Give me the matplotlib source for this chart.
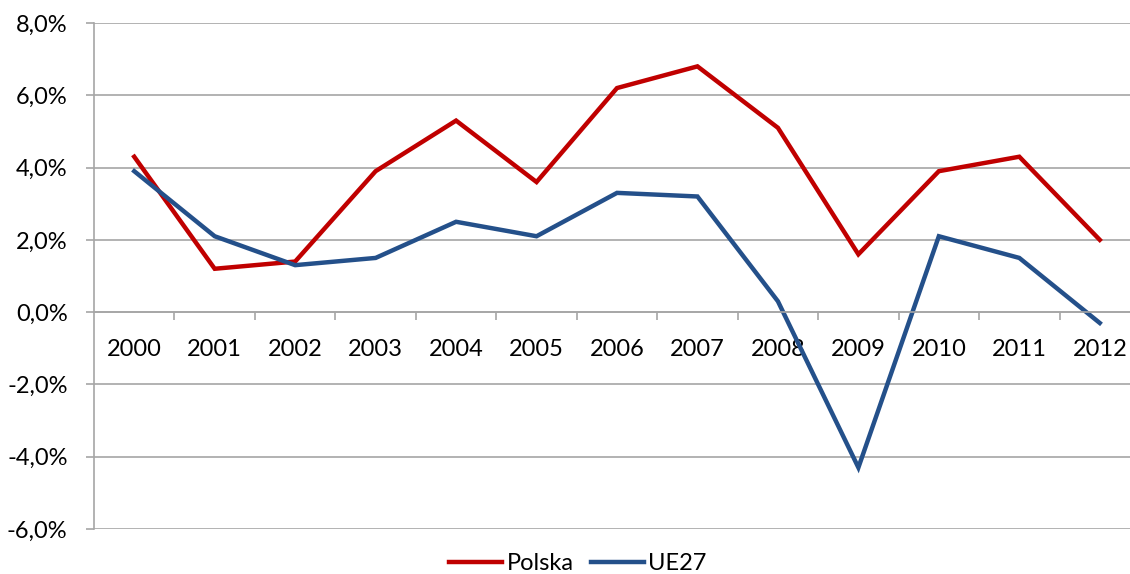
import matplotlib.pyplot as plt
from matplotlib.ticker import FuncFormatter, FixedLocator

plt.rcParams['font.family'] = ['Lato', 'DejaVu Sans']

years = ['2000', '2001', '2002', '2003', '2004', '2005', '2006',
         '2007', '2008', '2009', '2010', '2011', '2012']
polska = [4.3, 1.2, 1.4, 3.9, 5.3, 3.6, 6.2, 6.8, 5.1, 1.6, 3.9, 4.3, 2.0]
ue27 = [3.9, 2.1, 1.3, 1.5, 2.5, 2.1, 3.3, 3.2, 0.3, -4.3, 2.1, 1.5, -0.3]

W, H = 1130, 574
fig = plt.figure(figsize=(W / 100, H / 100), dpi=100)
# plot area: x 94..1140 px (cut off at right edge), y 23..529 px
ax = fig.add_axes([94 / W, 1 - 529 / H, (1140 - 94) / W, (529 - 23) / H])

x = list(range(len(years)))
ax.plot(x, polska, color='#C00000', lw=3.2, label='Polska', solid_joinstyle='miter')
ax.plot(x, ue27, color='#24508A', lw=3.2, label='UE27', solid_joinstyle='miter')

ax.set_xlim(-0.5, len(years) - 0.5)
ax.set_ylim(-6, 8)
ax.set_yticks([-6, -4, -2, 0, 2, 4, 6, 8])
ax.yaxis.set_major_formatter(FuncFormatter(lambda v, p: ('%.1f%%' % v).replace('.', ',')))
ax.grid(axis='y', color='#A6A6A6', lw=1.2)
ax.set_axisbelow(True)

for s in ['top', 'right']:
    ax.spines[s].set_visible(False)
ax.spines['bottom'].set_position(('data', 0))
ax.spines['left'].set_color('#A6A6A6')
ax.spines['bottom'].set_color('#A6A6A6')
ax.spines['left'].set_linewidth(1.2)
ax.spines['bottom'].set_linewidth(1.2)

ax.set_xticks(x)
ax.set_xticklabels(years)
ax.xaxis.set_minor_locator(FixedLocator([i + 0.5 for i in x]))
ax.tick_params(axis='x', which='major', length=0, pad=19.5, labelsize=17, colors='#000000')
ax.tick_params(axis='x', which='minor', length=6, width=1.2, color='#A6A6A6', direction='out')
ax.tick_params(axis='y', length=6, width=1.2, color='#A6A6A6', pad=13, labelsize=17)
for t in ax.get_yticklabels():
    t.set_color('#000000')

fig.legend(loc='center', bbox_to_anchor=(0.5115, 1 - 564 / H), ncol=2, frameon=False,
           fontsize=17, handlelength=2.25, columnspacing=0.7, handletextpad=0.2)

fig.savefig('out.png', dpi=100)
